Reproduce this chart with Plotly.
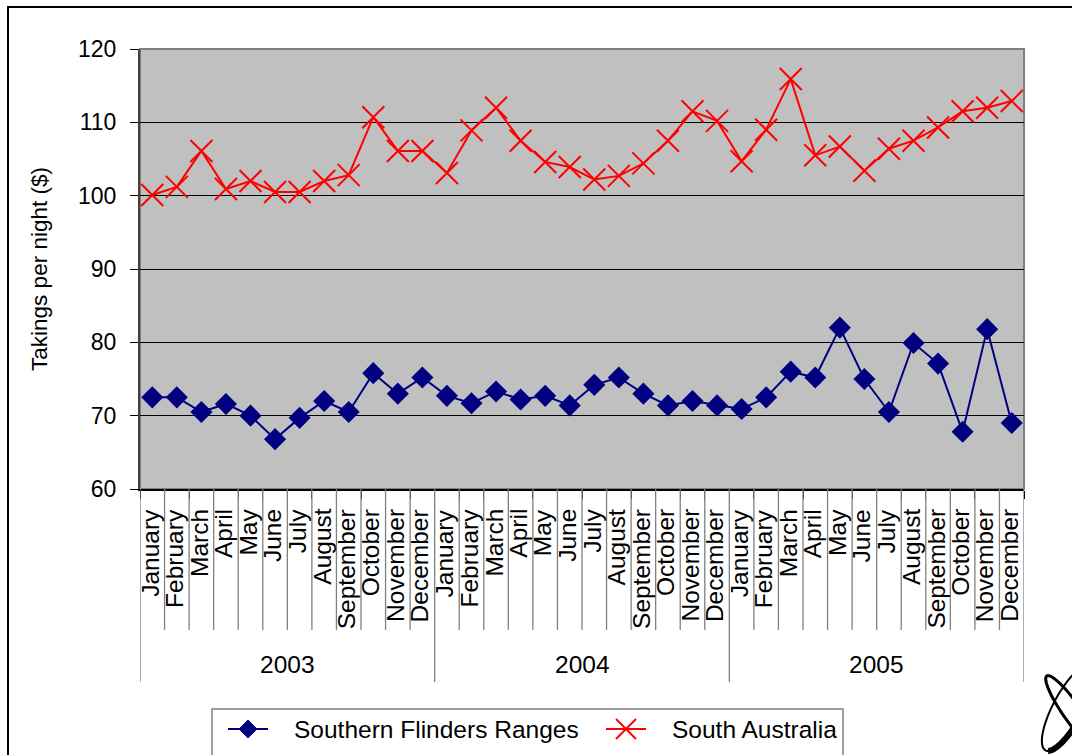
import math
import plotly.graph_objects as go

# Monthly average takings per night ($), 2003-2005
years = ["2003", "2004", "2005"]
months = ["January", "February", "March", "April", "May", "June", "July",
          "August", "September", "October", "November", "December"]

southern_flinders = [
    72.5, 72.5, 70.5, 71.6, 70.0, 66.8, 69.7, 72.0, 70.5, 75.8, 73.0, 75.2,
    72.7, 71.7, 73.3, 72.2, 72.7, 71.4, 74.2, 75.2, 73.0, 71.4, 72.0, 71.4,
    70.9, 72.5, 76.0, 75.2, 82.0, 75.0, 70.5, 79.9, 77.1, 67.8, 81.8, 69.0,
]
south_australia = [
    100.1, 101.2, 106.1, 100.9, 102.0, 100.5, 100.5, 102.0, 102.8, 110.7, 106.1, 106.1,
    103.1, 108.9, 112.0, 107.5, 104.6, 103.9, 102.2, 102.7, 104.4, 107.5, 111.5, 110.2,
    104.7, 109.0, 115.9, 105.5, 106.7, 103.4, 106.4, 107.5, 109.3, 111.5, 112.0, 112.9,
]

y_ticks = [60, 70, 80, 90, 100, 110, 120]

series_names = ["Southern Flinders Ranges", "South Australia"]
series_colors = ["#000080", "#FF0000"]

FONT = "Liberation Sans, Arial, sans-serif"
W, H = 1072, 755
L, R, T, B = 140, 48, 49, 266
PW, PH = W - L - R, H - T - B


def px(x):
    return (x - L) / PW


def py(y):
    return (H - B - y) / PH


n = len(years) * len(months)
xs = list(range(n))

fig = go.Figure()
fig.add_trace(go.Scatter(
    x=xs, y=southern_flinders, name=series_names[0],
    mode="lines+markers",
    line=dict(color=series_colors[0], width=2),
    marker=dict(symbol="diamond", size=17, color=series_colors[0]),
))
fig.add_trace(go.Scatter(
    x=xs, y=south_australia, name=series_names[1],
    mode="lines+markers",
    line=dict(color=series_colors[1], width=2),
    marker=dict(symbol="x-thin-open", size=22, line=dict(color=series_colors[1], width=2)),
))

shapes = []
annotations = []

# plot area frame (top and right edges)
shapes.append(dict(type="rect", xref="paper", yref="paper", x0=0, y0=0, x1=1, y1=1,
                   line=dict(color="#808080", width=2), layer="below"))

# category separators below the axis: months short, years long
for i in range(n + 1):
    long_line = i % len(months) == 0
    shapes.append(dict(
        type="line", xref="x", yref="paper",
        x0=i - 0.5, x1=i - 0.5, y0=0, y1=py(682 if long_line else 630),
        line=dict(color="#808080", width=1.3),
    ))

# month labels, rotated
for i in range(n):
    annotations.append(dict(
        x=i - 0.1, y=py(507), xref="x", yref="paper",
        text=months[i % len(months)], textangle=-90,
        showarrow=False, xanchor="center", yanchor="top",
        font=dict(family=FONT, size=24.5, color="black"),
    ))

# year labels centred under each group
for k, yr in enumerate(years):
    annotations.append(dict(
        x=k * len(months) + (len(months) - 1) / 2, y=py(664), xref="x", yref="paper",
        text=yr, showarrow=False, xanchor="center", yanchor="middle",
        font=dict(family=FONT, size=24.5, color="black"),
    ))

# legend box with line-and-marker keys
shapes.append(dict(type="rect", xref="paper", yref="paper",
                   x0=px(212), y0=py(800), x1=px(843), y1=py(709),
                   line=dict(color="#808080", width=1.5), fillcolor="white"))
LEG_Y = 729
key_starts = [228, 606]
text_starts = [292, 670]
for k in range(2):
    x0 = key_starts[k]
    cx = x0 + 20
    shapes.append(dict(type="line", xref="paper", yref="paper",
                       x0=px(x0), x1=px(x0 + 40), y0=py(LEG_Y), y1=py(LEG_Y),
                       line=dict(color=series_colors[k], width=2)))
    if k == 0:
        d = 9
        shapes.append(dict(
            type="path", xref="paper", yref="paper",
            path=(f"M{px(cx - d)},{py(LEG_Y)} L{px(cx)},{py(LEG_Y - d)} "
                  f"L{px(cx + d)},{py(LEG_Y)} L{px(cx)},{py(LEG_Y + d)} Z"),
            fillcolor=series_colors[k], line=dict(color=series_colors[k], width=1)))
    else:
        d = 10
        for sgn in (1, -1):
            shapes.append(dict(type="line", xref="paper", yref="paper",
                               x0=px(cx - d), x1=px(cx + d),
                               y0=py(LEG_Y - sgn * d), y1=py(LEG_Y + sgn * d),
                               line=dict(color=series_colors[k], width=2)))
    annotations.append(dict(
        x=px(text_starts[k]), y=py(LEG_Y), xref="paper", yref="paper",
        text=series_names[k], showarrow=False, xanchor="left", yanchor="middle",
        font=dict(family=FONT, size=24.5, color="black"),
    ))

# outer chart border
shapes.append(dict(type="rect", xref="paper", yref="paper",
                   x0=px(8), y0=py(800), x1=px(1100), y1=py(7),
                   line=dict(color="black", width=2)))


# corner emblem: crossed elliptical loops
def ellipse_path(cx, cy, a, b, ang, t0=0.0, t1=2 * math.pi, closed=True):
    pts = []
    steps = 60
    for k in range(steps + 1):
        t = t0 + (t1 - t0) * k / steps
        ex, ey = a * math.cos(t), b * math.sin(t)
        X = cx + ex * math.cos(ang) - ey * math.sin(ang)
        Y = cy + ex * math.sin(ang) + ey * math.cos(ang)
        pts.append(f"{px(X):.5f},{py(Y):.5f}")
    return "M" + " L".join(pts) + (" Z" if closed else "")


shapes.append(dict(type="path", xref="paper", yref="paper",
                   path=ellipse_path(1068, 708, 48, 15, math.radians(-62)),
                   line=dict(color="black", width=2)))
shapes.append(dict(type="path", xref="paper", yref="paper",
                   path=ellipse_path(1068, 708, 48, 15, math.radians(-62),
                                     math.radians(40), math.radians(170), closed=False),
                   line=dict(color="black", width=6)))
shapes.append(dict(type="path", xref="paper", yref="paper",
                   path=ellipse_path(1072, 712, 44, 9, math.radians(-125)),
                   line=dict(color="black", width=3)))

fig.update_layout(
    width=W, height=H,
    margin=dict(l=L, r=R, t=T, b=B, autoexpand=False),
    paper_bgcolor="white",
    plot_bgcolor="#C0C0C0",
    font=dict(family=FONT, size=23, color="black"),
    showlegend=False,
    xaxis=dict(
        range=[-0.5, n - 0.5],
        tickvals=[i - 0.5 for i in range(n + 1)],
        ticktext=["" for _ in range(n + 1)],
        ticks="outside", ticklen=8, tickcolor="black", tickwidth=1.3,
        showgrid=False, zeroline=False,
        showline=True, linecolor="black", linewidth=1.5,
        fixedrange=True,
    ),
    yaxis=dict(
        range=[60, 120],
        tickvals=y_ticks,
        ticks="outside", ticklen=8, tickcolor="black", tickwidth=1.3,
        ticklabelstandoff=9,
        showgrid=True, gridcolor="black", gridwidth=1.3,
        zeroline=False,
        showline=True, linecolor="#404040", linewidth=2,
        tickfont=dict(family=FONT, size=23),
        title=dict(text="Takings per night ($)", standoff=24,
                   font=dict(family=FONT, size=22.5)),
        fixedrange=True,
    ),
    shapes=shapes,
    annotations=annotations,
)

fig.write_html("out.html")
